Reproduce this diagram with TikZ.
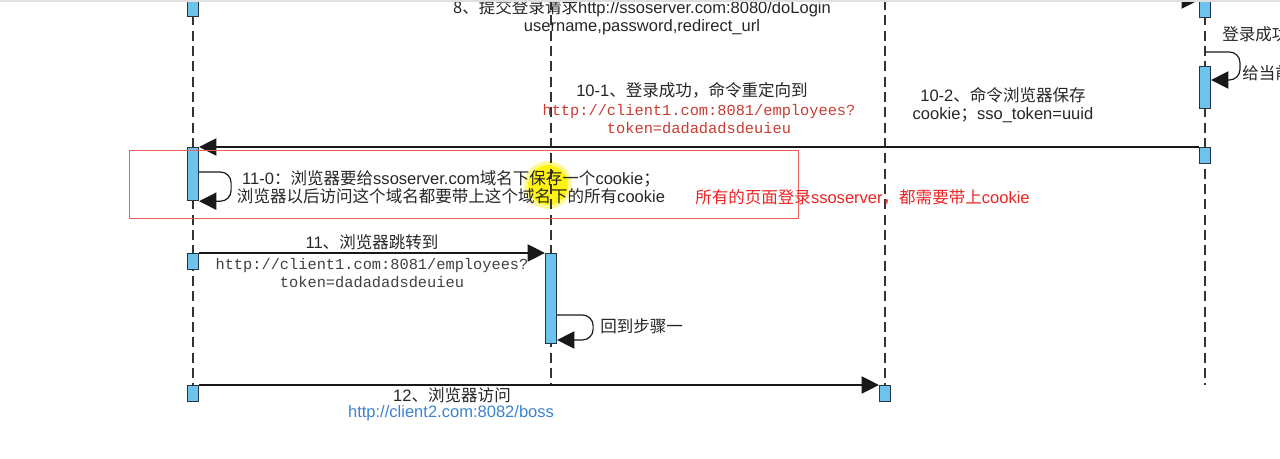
\documentclass[tikz,border=0pt]{standalone}
\usepackage{fontspec}
\setmainfont{Liberation Sans}
\setmonofont{Liberation Mono}
\newfontfamily\cjk{Noto Sans CJK SC}
\newcommand{\zh}[1]{{\cjk #1}}
\usetikzlibrary{arrows.meta,calc}
\definecolor{boxfill}{RGB}{108,196,236}
\definecolor{boxline}{RGB}{40,52,70}
\definecolor{redurl}{RGB}{200,60,50}
\definecolor{redmark}{RGB}{235,35,35}
\definecolor{redframe}{RGB}{236,95,95}
\definecolor{blueurl}{RGB}{60,130,210}
\tikzstyle{lifeline} = [draw=black!80, line width=0.8pt, dash pattern=on 7.5pt off 4pt]
\tikzstyle{actbox} = [draw=boxline, fill=boxfill, line width=0.9pt, minimum width=8.25pt, inner sep=0pt, anchor=north]
\tikzstyle{msg} = [draw=black!90, line width=0.9pt, -{Triangle[length=13pt,width=13pt]}]
\tikzstyle{lbl} = [inner sep=0pt, align=center, text=black!85, font=\fontsize{12.4}{13.5}\selectfont]
\tikzstyle{url} = [lbl, font=\fontsize{11.5}{13.5}\selectfont\ttfamily]

\begin{document}
\begin{tikzpicture}[x=0.75pt,y=-0.75pt]
\useasboundingbox (0,0) rectangle (1280,459);
\clip (0,0) rectangle (1280,459);

% cursor highlight
\fill[yellow, opacity=0.4] (548,185) circle[radius=24];
\fill[yellow, opacity=0.9] (548,185) circle[radius=20];

\foreach \n/\x in {a/193,b/551,c/885,d/1205} {
  \coordinate (\n top) at (\x,0);
  \coordinate (\n end) at (\x,385);
  \draw[lifeline] (\n top) -- (\n end);
}

\node[actbox, minimum height=12pt] (lt) at (193,0) {};
\node[actbox, minimum height=12.75pt] (rt) at (1205,0) {};
\node[actbox, minimum height=31.5pt] (r1) at (1205,66) {};
\node[actbox, minimum height=12pt] (r2) at (1205,147) {};
\node[actbox, minimum height=39.75pt] (l1) at (193,147) {};
\node[actbox, minimum height=12pt] (l2) at (193,253) {};
\node[actbox, minimum height=67.5pt] (m1) at (551,253) {};
\node[actbox, minimum height=12pt] (l3) at (193,385) {};
\node[actbox, minimum height=12pt] (t1) at (885,385) {};

\draw[msg] (lt.north east) -- (rt.north west);
\draw[msg] (r2.north west) -- (l1.north east);
\draw[msg] (l2.north east) -- (m1.north west);
\draw[msg] (l3.north east) -- (t1.north west);

\coordinate (d loop) at (1205,52);
\draw[msg, rounded corners=8pt] (d loop) -- ++(35,0) |- ($(r1.north east)+(0,14)$);
\draw[msg, rounded corners=8pt] ($(l1.north east)+(0,25)$) -- ++(32,0) |- (l1.south east);
\draw[msg, rounded corners=8pt] ($(m1.north east)+(0,62)$) -- ++(36,0) |- ($(m1.north east)+(0,87)$);

\draw[redframe, line width=0.6pt] (129,150) rectangle (798,218);

\node[lbl] (n8) at (642,17) {\zh{8、提交登录请求}http://ssoserver.com:8080/doLogin\\username,password,redirect\_url};
\node[lbl, anchor=west] (nok) at (1222,34) {\zh{登录成功}};
\node[lbl, anchor=west] (ncur) at (1242,73) {\zh{给当前}};
\node[lbl] (n101) at (692,90) {10-1\zh{、登录成功，命令重定向到}};
\node[url, text=redurl] (n101u) at (699,119) {http://client1.com:8081/employees?\\token=dadadadsdeuieu};
\node[lbl] (n102) at (1003,105.5) {10-2\zh{、命令浏览器保存}\\cookie\zh{；}sso\_token=uuid};
\node[lbl] (n110) at (451,187.5) {11-0\zh{：浏览器要给}ssoserver.com\zh{域名下保存一个}cookie\zh{；}\\\zh{浏览器以后访问这个域名都要带上这个域名下的所有}cookie};
\node[lbl, anchor=west, text=redmark] (nall) at (695,197) {\zh{所有的页面登录}ssoserver\zh{，都需要带上}cookie};
\node[lbl] (n11) at (372,242) {11\zh{、浏览器跳转到}};
\node[url, text=black!75] (n11u) at (372,273.5) {http://client1.com:8081/employees?\\token=dadadadsdeuieu};
\node[lbl, anchor=west] (nback) at (600,326) {\zh{回到步骤一}};
\node[lbl] (n12) at (452,395) {12\zh{、浏览器访问}};
\node[lbl, text=blueurl] (n12u) at (451,413) {http://client2.com:8082/boss};

\fill[black!12] (0,0) rectangle (1280,2.5);
\end{tikzpicture}
\end{document}
